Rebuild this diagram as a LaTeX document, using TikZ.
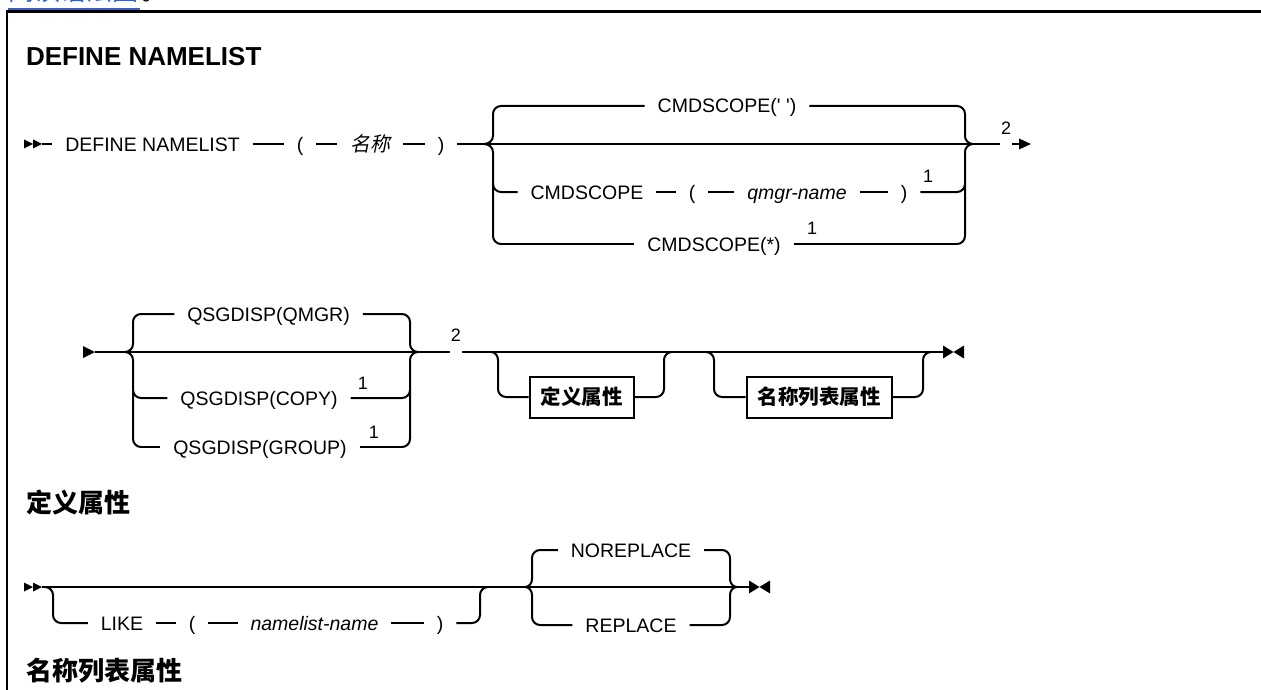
\documentclass[tikz,border=0pt]{standalone}
\usepackage{fontspec}
\setmainfont{Liberation Sans}[Ligatures=TeXOff]
\newfontfamily\cjk{Noto Sans CJK SC}
\newfontfamily\cjksl{Noto Sans CJK SC}[FakeSlant=0.2]
\definecolor{linkblue}{RGB}{58,92,190}
\tikzset{
  tok/.style={inner ysep=0pt, inner xsep=12pt, text height=14pt, text depth=0pt, font=\fontsize{19.5}{22}\selectfont},
  tokit/.style={tok, font=\fontsize{19.5}{22}\selectfont\itshape},
  tokcjk/.style={tok, font=\fontsize{20}{22}\selectfont\cjksl},
  fn/.style={inner sep=0pt, font=\fontsize{18}{20}\selectfont},
  boxnode/.style={draw, line width=2pt, minimum height=41pt, inner xsep=11pt, inner ysep=0pt, font=\fontsize{20.5}{23}\selectfont\cjk\bfseries},
  head/.style={anchor=west, inner sep=0pt, font=\fontsize{26}{30}\selectfont\cjk\bfseries},
  rail/.style={line width=2pt},
  tip/.style={fill=black, draw=none},
}
\begin{document}
\begin{tikzpicture}[x=1pt, y=-1pt, rail]
\useasboundingbox (0,0) rectangle (1261,690);
\fill[white] (0,0) rectangle (1261,690);

% clipped link text at the top
\begin{scope}
\clip (0,0) rectangle (1261,8);
\node[anchor=base west, inner sep=0pt, text=linkblue, font=\fontsize{26}{28}\selectfont\cjk] (lnk) at (8,1) {阅读语法图};
\node[anchor=base west, inner sep=0pt, font=\fontsize{26}{28}\selectfont\cjk] (dot) at (lnk.base east) {。};
\end{scope}
\draw[linkblue, line width=1.2pt] (8,9) -- (140,9);

% frame
\draw[line width=2.5pt] (7,690) -- (7,11.5) -- (1261,11.5);

% title
\node[anchor=west, inner sep=0pt, font=\fontsize{26}{30}\selectfont\bfseries] (title) at (25,57) {DEFINE NAMELIST};

% ---------------- Row 1 ----------------
\fill[tip] (24,139.5) -- (33,144) -- (24,148.5) -- cycle;
\fill[tip] (33,139.5) -- (42,144) -- (33,148.5) -- cycle;
\coordinate (s1) at (42,144);
\node[tok] (def) at (152.5,144) {DEFINE NAMELIST};
\node[tok] (lp1) at (300,144) {(};
\node[tokcjk] (nm) at (370,144) {名称};
\node[tok] (rp1) at (441,144) {)};
\coordinate (c1L) at (484,144);
\coordinate (c1R) at (973,144);
\draw (s1) -- (def);
\draw (def) -- (lp1);
\draw (lp1) -- (nm);
\draw (nm) -- (rp1);
\draw (rp1) -- (c1L);
\draw (c1L) -- (c1R);
% top branch
\node[tok] (cs0) at (727,106) {CMDSCOPE(' ')};
\draw (c1L) to[out=0,in=-90] (493,136) -- (493,114) to[out=90,in=180] (501,106) -- (cs0);
\draw (cs0) -- (957,106) to[out=0,in=90] (965,114) -- (965,136) to[out=-90,in=180] (c1R);
% lower braces
\draw (c1L) to[out=0,in=90] (493,152) -- (493,236) to[out=-90,in=180] (501,244);
\draw (957,244) to[out=0,in=-90] (965,236) -- (965,152) to[out=90,in=180] (c1R);
% branch 2
\node[tok] (cs2) at (587,192) {CMDSCOPE};
\node[tok] (lp2) at (692,192) {(};
\node[tokit] (qm) at (797,192) {qmgr-name};
\node[tok] (rp2) at (904,192) {)};
\node[fn] (f1a) at (928,176) {1};
\coordinate (b2L) at (501,192);
\coordinate (b2R) at (957,192);
\draw (493,184) to[out=-90,in=180] (b2L) -- (cs2);
\draw (cs2) -- (lp2);
\draw (lp2) -- (qm);
\draw (qm) -- (rp2);
\draw (rp2) -- (b2R) to[out=0,in=-90] (965,184);
% branch 3
\node[tok] (cs3) at (714,244) {CMDSCOPE(*)};
\node[fn] (f1b) at (812,228) {1};
\draw (501,244) -- (cs3);
\draw (cs3) -- (957,244);
% end of row 1
\node[fn] (f2a) at (1006,128) {2};
\coordinate (e1) at (1019,144);
\draw (c1R) -- (f2a.west |- c1R);
\draw (f2a.east |- c1R) -- (e1);
\fill[tip] (1019,138.5) -- (1031,144) -- (1019,149.5) -- cycle;

% ---------------- Row 2 ----------------
\fill[tip] (83,346) -- (95,352) -- (83,358) -- cycle;
\coordinate (s2) at (95,352);
\coordinate (c2L) at (125,352);
\coordinate (c2R) at (418,352);
\draw (s2) -- (c2L) -- (c2R);
\node[tok] (q0) at (268.5,314) {QSGDISP(QMGR)};
\draw (c2L) to[out=0,in=-90] (133,344) -- (133,322) to[out=90,in=180] (141,314) -- (q0);
\draw (q0) -- (402,314) to[out=0,in=90] (410,322) -- (410,344) to[out=-90,in=180] (c2R);
\draw (c2L) to[out=0,in=90] (133,360) -- (133,439) to[out=-90,in=180] (141,447);
\draw (402,447) to[out=0,in=-90] (410,439) -- (410,360) to[out=90,in=180] (c2R);
\node[tok] (q1) at (259,398) {QSGDISP(COPY)};
\node[fn] (f1c) at (363,383) {1};
\draw (133,390) to[out=-90,in=180] (141,398) -- (q1);
\draw (q1) -- (402,398) to[out=0,in=-90] (410,390);
\node[tok] (q2) at (260,447) {QSGDISP(GROUP)};
\node[fn] (f1d) at (374,432) {1};
\draw (141,447) -- (q2);
\draw (q2) -- (402,447);
\node[fn] (f2b) at (456,335) {2};
\coordinate (o1a) at (491,352);
\coordinate (o1b) at (672,352);
\coordinate (o2a) at (706,352);
\coordinate (o2b) at (931,352);
\coordinate (e2) at (943,352);
\draw (c2R) -- (f2b.west |- c2R);
\draw (f2b.east |- c2R) -- (o1a) -- (o1b) -- (o2a) -- (o2b) -- (e2);
\node[boxnode] (bx1) at (581.5,397) {定义属性};
\draw (o1a) to[out=0,in=90] (498,360) -- (498,389) to[out=-90,in=180] (506,397) -- (bx1);
\draw (bx1) -- (656,397) to[out=0,in=-90] (664,389) -- (664,360) to[out=90,in=180] (o1b);
\node[boxnode] (bx2) at (819,397) {名称列表属性};
\draw (o2a) to[out=0,in=90] (714,360) -- (714,389) to[out=-90,in=180] (722,397) -- (bx2);
\draw (bx2) -- (915,397) to[out=0,in=-90] (923,389) -- (923,360) to[out=90,in=180] (o2b);
\fill[tip] (943,345.5) -- (953.5,352) -- (943,358.5) -- cycle;
\fill[tip] (964,345.5) -- (953.5,352) -- (964,358.5) -- cycle;

% ---------------- Heading 1 ----------------
\node[head] (h1) at (25,503) {定义属性};

% ---------------- Row 3 ----------------
\fill[tip] (24,582.5) -- (33,587) -- (24,591.5) -- cycle;
\fill[tip] (33,582.5) -- (42,587) -- (33,591.5) -- cycle;
\coordinate (s3) at (42,587);
\coordinate (l1a) at (45,587);
\coordinate (l1b) at (488,587);
\coordinate (c3L) at (525,587);
\coordinate (c3R) at (737,587);
\coordinate (e3) at (749,587);
\draw (s3) -- (l1a) -- (l1b) -- (c3L) -- (c3R) -- (e3);
\node[tok] (like) at (122,623) {LIKE};
\node[tok] (lp3) at (192,623) {(};
\node[tokit] (nln) at (314.5,623) {namelist-name};
\node[tok] (rp3) at (440,623) {)};
\draw (l1a) to[out=0,in=90] (53,595) -- (53,615) to[out=-90,in=180] (61,623) -- (like);
\draw (like) -- (lp3);
\draw (lp3) -- (nln);
\draw (nln) -- (rp3);
\draw (rp3) -- (472,623) to[out=0,in=-90] (480,615) -- (480,595) to[out=90,in=180] (l1b);
\node[tok] (nrp) at (631,550) {NOREPLACE};
\node[tok] (rpl) at (631,625) {REPLACE};
\draw (c3L) to[out=0,in=-90] (532,579) -- (532,558) to[out=90,in=180] (540,550) -- (nrp);
\draw (nrp) -- (722,550) to[out=0,in=90] (730,558) -- (730,579) to[out=-90,in=180] (c3R);
\draw (c3L) to[out=0,in=90] (532,595) -- (532,617) to[out=-90,in=180] (540,625) -- (rpl);
\draw (rpl) -- (722,625) to[out=0,in=-90] (730,617) -- (730,595) to[out=90,in=180] (c3R);
\fill[tip] (749,580.5) -- (759.5,587) -- (749,593.5) -- cycle;
\fill[tip] (770,580.5) -- (759.5,587) -- (770,593.5) -- cycle;

% ---------------- Heading 2 ----------------
\node[head] (h2) at (25,671) {名称列表属性};
\end{tikzpicture}
\end{document}
